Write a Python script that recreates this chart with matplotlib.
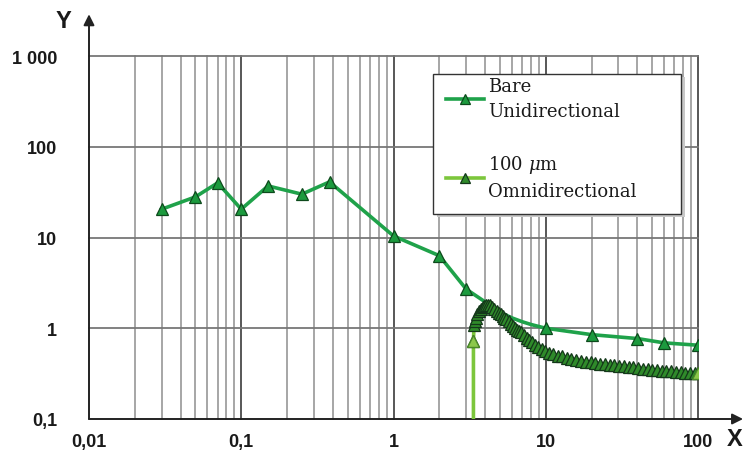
"""
Log-log chart: bare unidirectional vs 100 um omnidirectional response.
"""

import matplotlib

matplotlib.use("Agg")
import matplotlib.pyplot as plt
from matplotlib.patches import Rectangle

# --- data ------------------------------------------------------------------
bare_x = [0.03, 0.05, 0.07, 0.1, 0.15, 0.25, 0.38, 1.0, 2.0, 3.0,
          4.0, 5.0, 6.0, 7.0, 8.0, 10.0, 20.0, 40.0, 60.0, 100.0]
bare_y = [20.5, 28.0, 40.0, 20.5, 37.0, 30.0, 41.0, 10.4, 6.3, 2.7,
          1.95, 1.5, 1.3, 1.18, 1.1, 1.0, 0.85, 0.77, 0.69, 0.65]
# markers only where visible (the 4..8 part is hidden behind the other curve)
bare_marked = [0, 1, 2, 3, 4, 5, 6, 7, 8, 9, 15, 16, 17, 18, 19]

omni_x = [3.35, 3.35, 3.38, 3.42, 3.47, 3.55, 3.65, 3.75, 3.85, 3.95,
          4.05, 4.15, 4.3, 4.45, 4.6, 4.75, 4.9, 5.05, 5.2, 5.35,
          5.5, 5.7, 5.9, 6.1, 6.3, 6.5, 6.7, 6.9, 7.2, 7.5,
          7.8, 8.1, 8.5, 8.9, 9.4, 9.9, 10.5, 11.2, 12.0, 12.8,
          13.7, 14.7, 15.8, 17.0, 18.3, 19.7, 21.2, 22.8, 24.5, 26.3,
          28.2, 30.3, 32.5, 35.0, 37.6, 40.4, 43.4, 46.6, 50.0, 53.7,
          57.7, 62.0, 66.6, 71.5, 76.8, 82.5, 88.6, 95.2, 100.0]
omni_y = [0.05, 0.73, 1.08, 1.2, 1.3, 1.42, 1.55, 1.65, 1.72, 1.78,
          1.8, 1.82, 1.8, 1.72, 1.63, 1.55, 1.48, 1.42, 1.35, 1.3,
          1.25, 1.19, 1.12, 1.05, 1.0, 0.96, 0.93, 0.9, 0.84, 0.79,
          0.74, 0.7, 0.66, 0.62, 0.59, 0.56, 0.54, 0.52, 0.5, 0.49,
          0.475, 0.46, 0.45, 0.44, 0.43, 0.42, 0.41, 0.405, 0.4, 0.395,
          0.39, 0.385, 0.38, 0.375, 0.37, 0.365, 0.36, 0.355, 0.35, 0.345,
          0.342, 0.338, 0.335, 0.332, 0.328, 0.325, 0.322, 0.32, 0.318]

x_ticks = [0.01, 0.1, 1, 10, 100]
x_tick_labels = ["0,01", "0,1", "1", "10", "100"]
y_ticks = [0.1, 1, 10, 100, 1000]
y_tick_labels = ["0,1", "1", "10", "100", "1 000"]

labels = ["Bare\nUnidirectional", "100 $\\mu$m\nOmnidirectional"]

# --- figure ------------------------------------------------------------------
plt.rcParams["mathtext.fontset"] = "dejavuserif"

fig = plt.figure(figsize=(7.44, 4.52), dpi=100)
ax = fig.add_axes([89 / 744, 1 - 420 / 452, 609 / 744, 363 / 452])
ax.set_xscale("log")
ax.set_yscale("log")
ax.set_xlim(0.01, 100)
ax.set_ylim(0.1, 1000)

# grid: every 1..9 vertical in each decade, horizontal only at decades
for dec in [0.01, 0.1, 1, 10]:
    for k in range(2, 10):
        ax.axvline(dec * k, color="#8e8e8e", lw=1.1, zorder=0.5, clip_on=False)
for xv in [0.1, 1, 10, 100]:
    ax.axvline(xv, color="#4a4a4a", lw=1.3, zorder=0.6, clip_on=False)
for yv in [1, 10, 100, 1000]:
    ax.axhline(yv, color="#777777", lw=1.3, zorder=0.6, clip_on=False)

bare_line, = ax.plot(
    bare_x, bare_y, color="#1fa24a", lw=2.6, marker="^", markersize=8,
    markerfacecolor="#1c9a3e", markeredgecolor="#0d4a1c", markeredgewidth=0.9,
    markevery=bare_marked, zorder=3,
)
omni_line, = ax.plot(
    omni_x, omni_y, color="#7cc63c", lw=2.6, marker="^", markersize=8,
    markerfacecolor="#2f8a2a", markeredgecolor="#14381a", markeredgewidth=0.9,
    markevery=list(range(1, len(omni_x))), zorder=4,
)
# first and last omni markers look lighter in the reference
ax.plot([omni_x[1], omni_x[-1]], [omni_y[1], omni_y[-1]], ls="none",
        marker="^", markersize=8, markerfacecolor="#8cc84b",
        markeredgecolor="#4c8a2a", zorder=5)

ax.set_xticks(x_ticks)
ax.set_xticklabels(x_tick_labels)
ax.set_yticks(y_ticks)
ax.set_yticklabels(y_tick_labels)
ax.minorticks_off()
ax.tick_params(axis="both", length=0, labelsize=13, colors="#1a1a1a")
ax.tick_params(axis="x", pad=10)
ax.tick_params(axis="y", pad=23)
for lab in ax.get_xticklabels() + ax.get_yticklabels():
    lab.set_fontfamily("Liberation Sans")
    lab.set_fontweight("bold")

for sp in ax.spines.values():
    sp.set_visible(False)

# axis arrows
arrow = dict(arrowstyle="-|>", color="#222222", lw=1.4, mutation_scale=16,
             shrinkA=0, shrinkB=0)
ax.annotate("", xy=(0, 1.115), xytext=(0, 0), xycoords="axes fraction",
            textcoords="axes fraction", arrowprops=arrow, annotation_clip=False)
ax.annotate("", xy=(1.074, 0), xytext=(0, 0), xycoords="axes fraction",
            textcoords="axes fraction", arrowprops=arrow, annotation_clip=False)
fig.text(63 / 744, 1 - 22 / 452, "Y", ha="center", va="center", fontsize=17,
         family="Liberation Sans", fontweight="bold", color="#1a1a1a")
fig.text(735 / 744, 1 - 440 / 452, "X", ha="center", va="center", fontsize=17,
         family="Liberation Sans", fontweight="bold", color="#1a1a1a")

# legend box with a soft shadow, drawn separately from the legend entries
box_x0 = (433 - 89) / 609
box_y0 = (420 - 215) / 363
box_w = (681 - 433) / 609
box_h = (215 - 75) / 363
shadow = Rectangle((box_x0 + 4 / 609, box_y0 - 3 / 363), box_w, box_h,
                   transform=ax.transAxes, facecolor="#c8c8c8", edgecolor="none",
                   zorder=8, clip_on=False)
frame = Rectangle((box_x0, box_y0), box_w, box_h, transform=ax.transAxes,
                  facecolor="white", edgecolor="#333333", lw=1.0, zorder=9,
                  clip_on=False)
ax.add_patch(shadow)
ax.add_patch(frame)

leg = ax.legend(
    [bare_line, omni_line], labels,
    loc="upper left", bbox_to_anchor=((446 - 89) / 609, (420 - 78) / 363),
    prop={"family": "DejaVu Serif", "size": 13},
    frameon=False, handlelength=2.1, handletextpad=0.25, labelspacing=1.85,
    borderpad=0, borderaxespad=0, markerscale=0.9,
)
leg.set_zorder(10)
for t in leg.get_texts():
    t.set_linespacing(1.5)
    t.set_color("#1a1a1a")

fig.savefig("out.png", dpi=100)
